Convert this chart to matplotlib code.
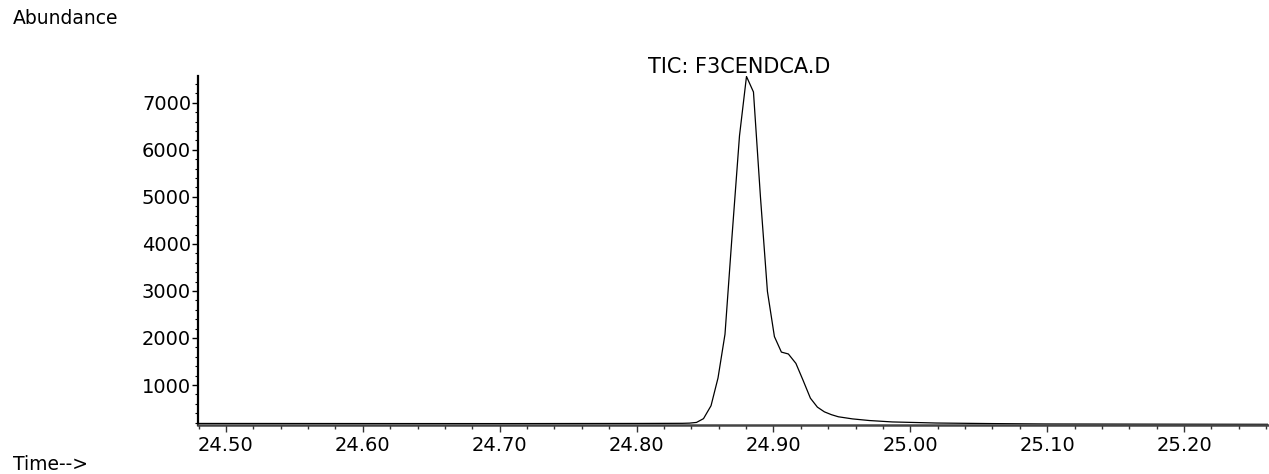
import matplotlib
matplotlib.use('Agg')
from matplotlib import pyplot as plt
from matplotlib.ticker import MultipleLocator, FormatStrFormatter

# retention time (min) and abundance
time = [24.4796, 24.60, 24.70, 24.8022, 24.8336, 24.8387, 24.8438, 24.8489,
        24.8544, 24.8595, 24.8646, 24.8697, 24.8752, 24.8803, 24.8854, 24.8905,
        24.8956, 24.9007, 24.9058, 24.9109, 24.9164, 24.9215, 24.9270, 24.9321,
        24.9372, 24.9423, 24.9474, 24.9577, 24.9701, 24.9869, 25.0190, 25.0599,
        25.0993, 25.1818, 25.2613]
abundance = [183, 181, 180, 183, 186, 190, 205, 285,
             560, 1150, 2080, 4150, 6300, 7560, 7230, 5000,
             2990, 2030, 1700, 1660, 1460, 1110, 720, 530,
             430, 370, 325, 280, 245, 215, 192, 180,
             172, 168, 165]

title = 'TIC: F3CENDCA.D'
ylabel = 'Abundance'
xlabel = 'Time-->'


def main():
    plt.rcParams['font.family'] = ['DejaVu Sans']
    W, H = 1269, 474
    fig = plt.figure(figsize=(W / 100, H / 100), dpi=100)
    ax = fig.add_axes([198 / W, 1 - 425 / H, (1268 - 198) / W, (425 - 76) / H])

    ax.plot(time, abundance, color='black', lw=0.9)
    ax.set_xlim(24.4796, 25.2613)
    ax.set_ylim(150, 7570)

    for s in ['top', 'right']:
        ax.spines[s].set_visible(False)
    ax.spines['left'].set_linewidth(1.6)
    ax.spines['left'].set_color('black')
    ax.spines['bottom'].set_linewidth(1.8)
    ax.spines['bottom'].set_color('#444444')

    ax.xaxis.set_major_locator(MultipleLocator(0.1))
    ax.xaxis.set_minor_locator(MultipleLocator(0.02))
    ax.xaxis.set_major_formatter(FormatStrFormatter('%.2f'))
    ax.yaxis.set_major_locator(MultipleLocator(1000))
    ax.yaxis.set_minor_locator(MultipleLocator(200))

    ax.tick_params(axis='x', which='major', length=5, width=1, pad=3,
                   labelsize=14, colors='#333333', labelcolor='black')
    ax.tick_params(axis='x', which='minor', length=3.2, width=1, colors='#333333')
    ax.tick_params(axis='y', which='major', length=4, width=1, pad=1, labelsize=14)
    ax.tick_params(axis='y', which='minor', length=2.2, width=0.8)

    fig.text(13 / W, 1 - 19 / H, ylabel, fontsize=13.5, ha='left', va='center')
    fig.text(739 / W, 1 - 67 / H, title, fontsize=15, ha='center', va='center')
    fig.text(13 / W, 1 - 465 / H, xlabel, fontsize=13.5, ha='left', va='center')

    fig.savefig('out.png', dpi=100)


if __name__ == '__main__':
    main()
